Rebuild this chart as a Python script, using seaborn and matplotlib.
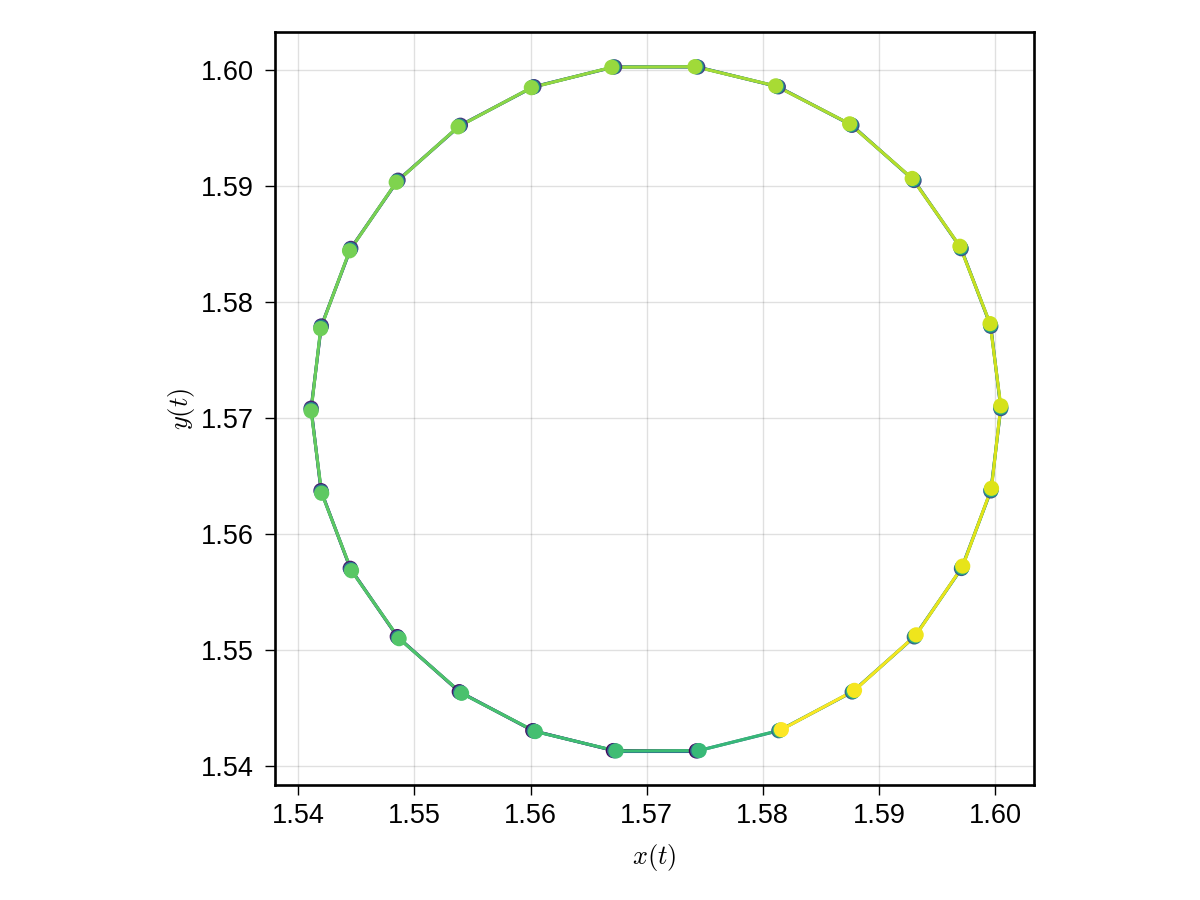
import numpy as np
import pandas as pd
import matplotlib
matplotlib.use("Agg")
import matplotlib.pyplot as plt
from matplotlib.collections import LineCollection
import seaborn as sns

# Trajectory points (three passes around the orbit)
x_loop1 = [1.57428, 1.56713, 1.56019, 1.55386, 1.54852, 1.54447, 1.54195, 1.54110, 1.54198,
           1.54452, 1.54859, 1.55396, 1.56029, 1.56724, 1.57440, 1.58134, 1.58768, 1.59303,
           1.59709, 1.59964, 1.60050, 1.59964, 1.59711, 1.59305, 1.58770, 1.58138]
y_loop1 = [1.54130, 1.54133, 1.54305, 1.54641, 1.55116, 1.55705, 1.56375, 1.57086, 1.57795,
           1.58464, 1.59052, 1.59526, 1.59859, 1.60029, 1.60028, 1.59857, 1.59525, 1.59049,
           1.58461, 1.57792, 1.57082, 1.56372, 1.55703, 1.55113, 1.54638, 1.54304]
x_loop2 = [1.57440, 1.56725, 1.56030, 1.55396, 1.54860, 1.54452, 1.54198, 1.54110, 1.54195,
           1.54447, 1.54851, 1.55386, 1.56018, 1.56712, 1.57428, 1.58122, 1.58758, 1.59295,
           1.59704, 1.59961, 1.60050, 1.59967, 1.59717, 1.59313, 1.58780, 1.58149]
y_loop2 = [1.54131, 1.54131, 1.54301, 1.54634, 1.55107, 1.55695, 1.56364, 1.57074, 1.57784,
           1.58454, 1.59043, 1.59519, 1.59854, 1.60028, 1.60030, 1.59861, 1.59531, 1.59058,
           1.58471, 1.57803, 1.57094, 1.56383, 1.55713, 1.55122, 1.54645, 1.54309]
x_loop3 = [1.57452, 1.56737, 1.56041, 1.55406, 1.54868, 1.54458, 1.54201, 1.54110, 1.54192,
           1.54441, 1.54843, 1.55376, 1.56007, 1.56700, 1.57416, 1.58111, 1.58748, 1.59287,
           1.59698, 1.59958, 1.60050, 1.59970, 1.59722, 1.59321, 1.58790, 1.58160]
y_loop3 = [1.54133, 1.54130, 1.54297, 1.54627, 1.55098, 1.55684, 1.56352, 1.57062, 1.57772,
           1.58443, 1.59034, 1.59512, 1.59850, 1.60026, 1.60031, 1.59865, 1.59538, 1.59067,
           1.58482, 1.57815, 1.57106, 1.56395, 1.55724, 1.55131, 1.54652, 1.54313]

x_ticks = [1.54, 1.55, 1.56, 1.57, 1.58, 1.59, 1.60]
y_ticks = [1.54, 1.55, 1.56, 1.57, 1.58, 1.59, 1.60]

xs = np.array(x_loop1 + x_loop2 + x_loop3)
ys = np.array(y_loop1 + y_loop2 + y_loop3)
step = np.arange(len(xs))
df = pd.DataFrame({"x": xs, "y": ys, "t": step})

sns.set_style("ticks")
plt.rcParams["font.family"] = ["Liberation Sans", "DejaVu Sans"]
plt.rcParams["mathtext.fontset"] = "cm"

fig = plt.figure(figsize=(12, 9), dpi=100)
ax = fig.add_axes([275 / 1200, 115 / 900, 759 / 1200, 753 / 900])

cmap = plt.get_cmap("viridis")
norm = plt.Normalize(0, len(xs) - 1)

# gradient-coloured connecting line
pts = np.column_stack([xs, ys]).reshape(-1, 1, 2)
segs = np.concatenate([pts[:-1], pts[1:]], axis=1)
seg_vals = (step[:-1] + step[1:]) / 2.0
lc = LineCollection(segs, colors=cmap(norm(seg_vals)), linewidths=2.2,
                    capstyle="round", joinstyle="round", zorder=2)
ax.add_collection(lc)

sns.scatterplot(data=df, x="x", y="y", hue="t", palette="viridis", hue_norm=norm,
                s=120, linewidth=0, legend=False, ax=ax, zorder=3)

ax.set_xlim(1.53799, 1.60336)
ax.set_ylim(1.53836, 1.60330)
ax.set_xticks(x_ticks)
ax.set_yticks(y_ticks)
ax.set_xticklabels([f"{v:.2f}" for v in x_ticks], fontsize=19.5, color="black")
ax.set_yticklabels([f"{v:.2f}" for v in y_ticks], fontsize=19.5, color="black")
ax.grid(True, color="black", alpha=0.12, linewidth=1)
ax.set_axisbelow(True)
ax.tick_params(axis="x", direction="out", length=7, width=1.0, color="black", pad=6)
ax.tick_params(axis="y", direction="out", length=7, width=1.0, color="black", pad=8)
for sp in ax.spines.values():
    sp.set_visible(True)
    sp.set_linewidth(1.9)
    sp.set_color("black")

ax.set_xlabel(r"$x(t)$", fontsize=19, labelpad=9, color="black")
ax.set_ylabel(r"$y(t)$", fontsize=19, labelpad=3, color="black")

fig.savefig("out.png", dpi=100)
